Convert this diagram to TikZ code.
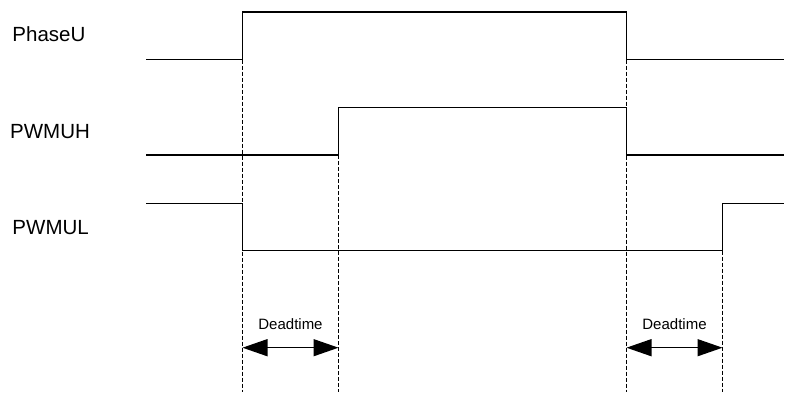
\documentclass[tikz,border=0pt]{standalone}
\usepackage{fontspec}
\setmainfont{Liberation Sans}
\usetikzlibrary{arrows.meta}
\begin{document}
\begin{tikzpicture}[x=1pt,y=1pt,
  sig/.style={line width=1.3pt,line join=miter},
  guide/.style={line width=1.2pt,dash pattern=on 4pt off 2pt},
  dt/.style={line width=1.4pt,{Triangle[length=25pt,width=17pt]}-{Triangle[length=25pt,width=17pt]}},
  lbl/.style={anchor=base west,inner sep=0pt,font=\fontsize{20.5}{24}\selectfont},
  dtlbl/.style={anchor=base,inner sep=0pt,font=\fontsize{15}{18}\selectfont}]
\useasboundingbox (0,0) rectangle (785,392);
% edge positions
\coordinate (pu0) at (146,332.5);
\coordinate (pu1) at (242.5,332.5);
\coordinate (pu2) at (242.5,380);
\coordinate (pu3) at (626.5,380);
\coordinate (pu4) at (626.5,332.5);
\coordinate (pu5) at (784,332.5);
\coordinate (ph0) at (146,237);
\coordinate (ph1) at (338.5,237);
\coordinate (ph2) at (338.5,284.5);
\coordinate (ph3) at (626.5,284.5);
\coordinate (ph4) at (626.5,237);
\coordinate (ph5) at (784,237);
\coordinate (pl0) at (146,188.5);
\coordinate (pl1) at (242.5,188.5);
\coordinate (pl2) at (242.5,141.5);
\coordinate (pl3) at (722.5,141.5);
\coordinate (pl4) at (722.5,188.5);
\coordinate (pl5) at (784,188.5);
\coordinate (b1) at (242.5,0);
\coordinate (b2) at (338.5,0);
\coordinate (b3) at (626.5,0);
\coordinate (b4) at (722.5,0);
\coordinate (a1) at (242.5,44.3);
\coordinate (a2) at (338.5,44.3);
\coordinate (a3) at (626.5,44.3);
\coordinate (a4) at (722.5,44.3);
% labels
\node[lbl] (lpu) at (12.3,350) {PhaseU};
\node[lbl] (lph) at (10,253.7) {PWMUH};
\node[lbl] (lpl) at (12.3,158) {PWMUL};
\node[dtlbl] (d1) at (290.5,62.5) {Deadtime};
\node[dtlbl] (d2) at (674.5,62.5) {Deadtime};
% guides
\draw[guide] (pu1) -- (b1);
\draw[guide] (ph1) -- (b2);
\draw[guide] (pu4) -- (b3);
\draw[guide] (pl3) -- (b4);
% signals
\draw[sig] (pu0) -- (pu1) -- (pu2) -- (pu3) -- (pu4) -- (pu5);
\draw[sig] (ph0) -- (ph1) -- (ph2) -- (ph3) -- (ph4) -- (ph5);
\draw[sig] (pl0) -- (pl1) -- (pl2) -- (pl3) -- (pl4) -- (pl5);
% deadtime arrows
\draw[dt] (a1) -- (a2);
\draw[dt] (a3) -- (a4);
\end{tikzpicture}
\end{document}
